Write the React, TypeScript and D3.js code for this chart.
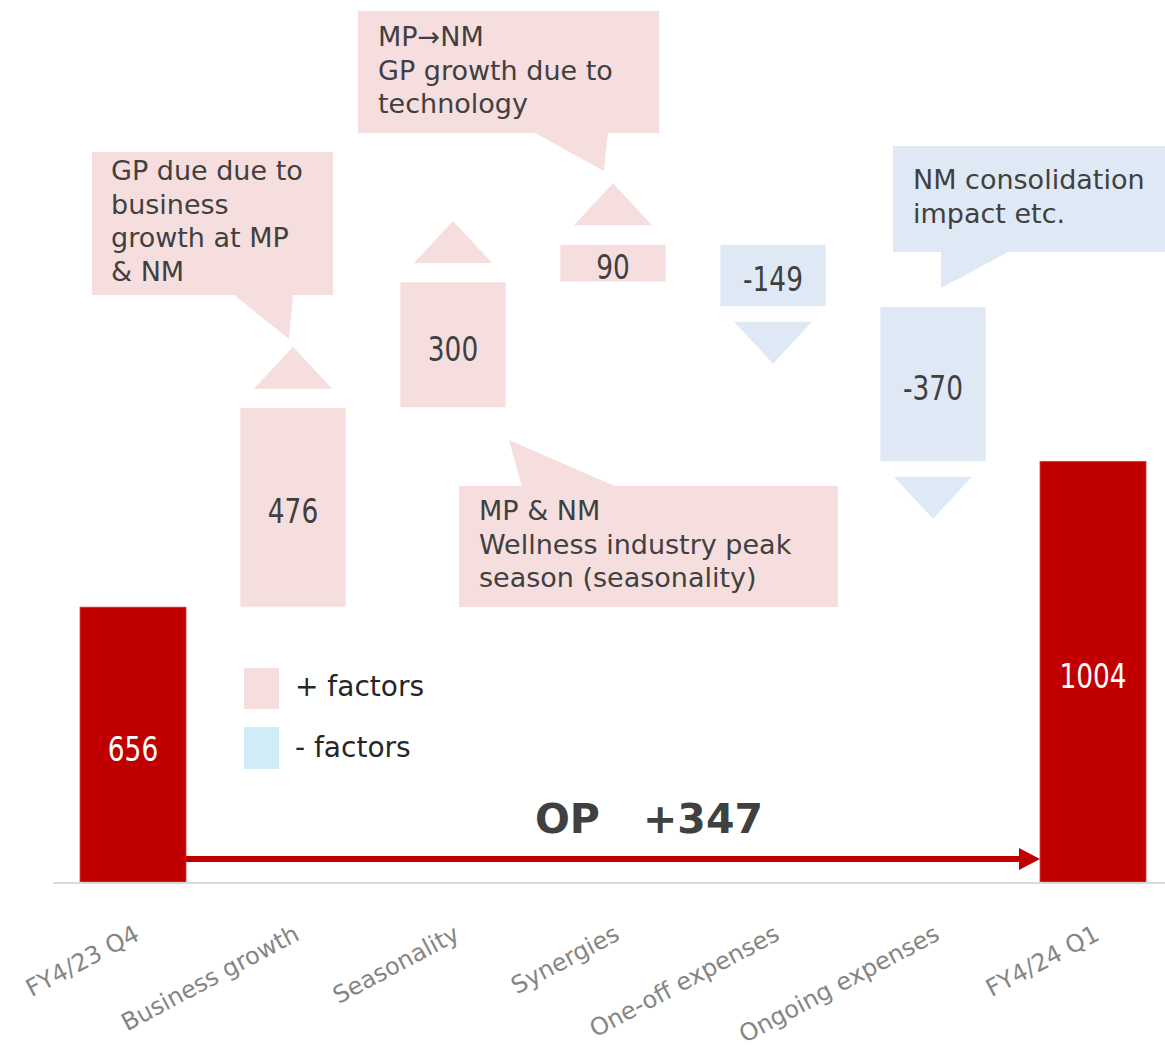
import React from "react";
import * as d3 from "d3";

const categories = [
  "FY4/23 Q4",
  "Business growth",
  "Seasonality",
  "Synergies",
  "One-off expenses",
  "Ongoing expenses",
  "FY4/24 Q1",
];
const values = [656, 476, 300, 90, -149, -370, 1004];
const kinds = ["total", "delta", "delta", "delta", "delta", "delta", "total"];
const valueLabels = ["656", "476", "300", "90", "-149", "-370", "1004"];

const legendLabels = ["+ factors", "- factors"];
const diffLabel = ["OP", "+347"];

const calloutTexts = [
  ["GP due due to", "business", "growth at MP", "& NM"],
  ["MP\u2192NM", "GP growth due to", "technology"],
  ["MP & NM", "Wellness industry peak", "season (seasonality)"],
  ["NM consolidation", "impact etc."],
];

const W = 1165;
const H = 1048;
const RED = "#C00000";
const PINK = "#F6DEDF";
const BLUE = "#DEE9F5";
const LEG_BLUE = "#D0ECF7";
const TEXT = "#404040";
const AXIS_TEXT = "#858585";

// Annotation layout (pixels)
const calloutLayout = [
  { rect: [92, 152, 241, 143], tail: [[233, 294], [293, 294], [289, 339]], tx: 111, ty: 180, fill: PINK },
  { rect: [358, 11, 301, 122], tail: [[533, 132], [608, 132], [604, 171]], tx: 378, ty: 46, fill: PINK },
  { rect: [459, 486, 379, 121], tail: [[522, 487], [509, 440], [617, 487]], tx: 479, ty: 520, fill: PINK },
  { rect: [893, 146, 272, 106], tail: [[941, 251], [941, 288], [1010, 251]], tx: 913, ty: 189, fill: BLUE },
];

export default function App() {
  const x = d3
    .scaleBand<string>()
    .domain(categories)
    .range([53, 1173])
    .paddingInner(0.3375)
    .paddingOuter(0.16875);
  const y = d3.scaleLinear().domain([0, 1000]).range([882, 463]);

  let running = 0;
  const items = categories.map((c, i) => {
    const v = values[i];
    let start: number, end: number;
    if (kinds[i] === "total") {
      start = 0;
      end = v;
      running = v;
    } else {
      start = running;
      end = running + v;
      running = end;
    }
    return { c, v, start, end, kind: kinds[i], label: valueLabels[i] };
  });

  const bw = x.bandwidth();
  const triW = 78;
  const triH = 42;
  const gapUp = 19;
  const gapDown = 15;

  const first = items[0];
  const last = items[items.length - 1];
  const arrowY = 859;
  const arrowX0 = (x(first.c) as number) + bw;
  const arrowX1 = x(last.c) as number;

  return (
    <svg
      width={W}
      height={H}
      style={{ position: "absolute", left: 0, top: 0, background: "#fff" }}
      fontFamily="'DejaVu Sans', sans-serif"
    >
      {/* callouts */}
      {calloutLayout.map((cl, i) => (
        <g key={"cl" + i}>
          <rect x={cl.rect[0]} y={cl.rect[1]} width={cl.rect[2]} height={cl.rect[3]} fill={cl.fill} />
          <polygon points={cl.tail.map((p) => p.join(",")).join(" ")} fill={cl.fill} />
          {calloutTexts[i].map((t, j) => (
            <text key={j} x={cl.tx} y={cl.ty + j * 33.5} fontSize={27} fill={TEXT}>
              {t}
            </text>
          ))}
        </g>
      ))}

      {/* bars */}
      {items.map((d) => {
        const x0 = x(d.c) as number;
        const cx = x0 + bw / 2;
        const yTop = y(Math.max(d.start, d.end));
        const yBot = y(Math.min(d.start, d.end));
        const isTotal = d.kind === "total";
        const fill = isTotal ? RED : d.v >= 0 ? PINK : BLUE;
        const mid = (yTop + yBot) / 2;
        let tri = null;
        if (!isTotal) {
          if (d.v >= 0) {
            const base = yTop - gapUp;
            tri = (
              <polygon
                points={`${cx - triW / 2},${base} ${cx + triW / 2},${base} ${cx},${base - triH}`}
                fill={fill}
              />
            );
          } else {
            const base = yBot + gapDown;
            tri = (
              <polygon
                points={`${cx - triW / 2},${base} ${cx + triW / 2},${base} ${cx},${base + triH}`}
                fill={fill}
              />
            );
          }
        }
        return (
          <g key={d.c}>
            <rect
              x={x0}
              y={yTop}
              width={bw}
              height={yBot - yTop}
              fill={fill}
              stroke={isTotal ? "#D84040" : "#FFFFFF"}
              strokeWidth={0.8}
            />
            {tri}
            <text
              transform={`translate(${cx},${mid + 16}) scale(0.8,1)`}
              textAnchor="middle"
              fontSize={33}
              fill={isTotal ? "#FFFFFF" : TEXT}
            >
              {d.label}
            </text>
          </g>
        );
      })}

      {/* baseline */}
      <line x1={53} x2={1165} y1={y(0) + 1} y2={y(0) + 1} stroke="#D9D9D9" strokeWidth={2} />

      {/* axis labels */}
      {categories.map((c) => {
        const cx = (x(c) as number) + bw / 2;
        return (
          <text
            key={"ax" + c}
            transform={`translate(${cx + 8},939) rotate(-28)`}
            textAnchor="end"
            fontSize={24}
            fill={AXIS_TEXT}
          >
            {c}
          </text>
        );
      })}

      {/* arrow */}
      <line x1={arrowX0} x2={arrowX1 - 18} y1={arrowY} y2={arrowY} stroke={RED} strokeWidth={6} />
      <polygon
        points={`${arrowX1 - 21},${arrowY - 11} ${arrowX1},${arrowY} ${arrowX1 - 21},${arrowY + 11}`}
        fill={RED}
      />
      <text x={535} y={833} fontSize={41} fontWeight="bold" fill={TEXT}>
        {diffLabel[0]}
      </text>
      <text x={643} y={833} fontSize={41} fontWeight="bold" fill={TEXT}>
        {diffLabel[1]}
      </text>

      {/* legend */}
      <rect x={244} y={668} width={35} height={41} fill={PINK} />
      <rect x={244} y={727} width={35} height={42} fill={LEG_BLUE} />
      <text x={295} y={696} fontSize={28} fill="#262626">
        {legendLabels[0]}
      </text>
      <text x={295} y={757} fontSize={28} fill="#262626">
        {legendLabels[1]}
      </text>
    </svg>
  );
}
